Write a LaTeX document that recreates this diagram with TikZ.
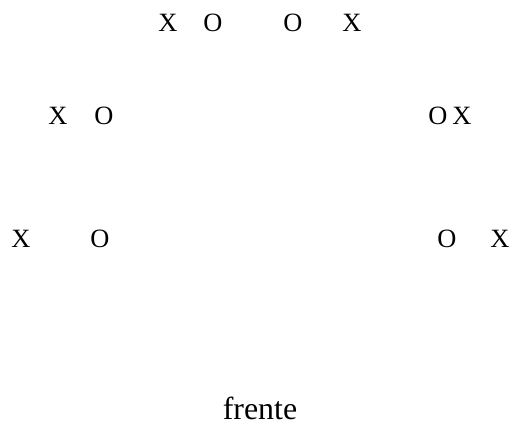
\documentclass[tikz,border=0pt]{standalone}
\usepackage{fontspec}
\setmainfont{Liberation Serif}
\begin{document}
\begin{tikzpicture}[x=1bp,y=-1bp,
  player/.style={anchor=base, inner sep=0pt, font=\fontsize{26.5}{30}\selectfont},
  caption/.style={anchor=base, inner sep=0pt, font=\fontsize{32}{36}\selectfont}]
\useasboundingbox (0,0) rectangle (513,426);
\node[player] (x1) at (168,31) {X};
\node[player] (o1) at (213,31) {O};
\node[player] (o2) at (293,31) {O};
\node[player] (x2) at (352,31) {X};
\node[player] (x3) at (58,124) {X};
\node[player] (o3) at (104,124) {O};
\node[player] (o4) at (438,124) {O};
\node[player] (x4) at (462,124) {X};
\node[player] (x5) at (21,247) {X};
\node[player] (o5) at (100,247) {O};
\node[player] (o6) at (447,247) {O};
\node[player] (x6) at (500,247) {X};
\node[caption] (f) at (260,419) {frente};
\end{tikzpicture}
\end{document}
